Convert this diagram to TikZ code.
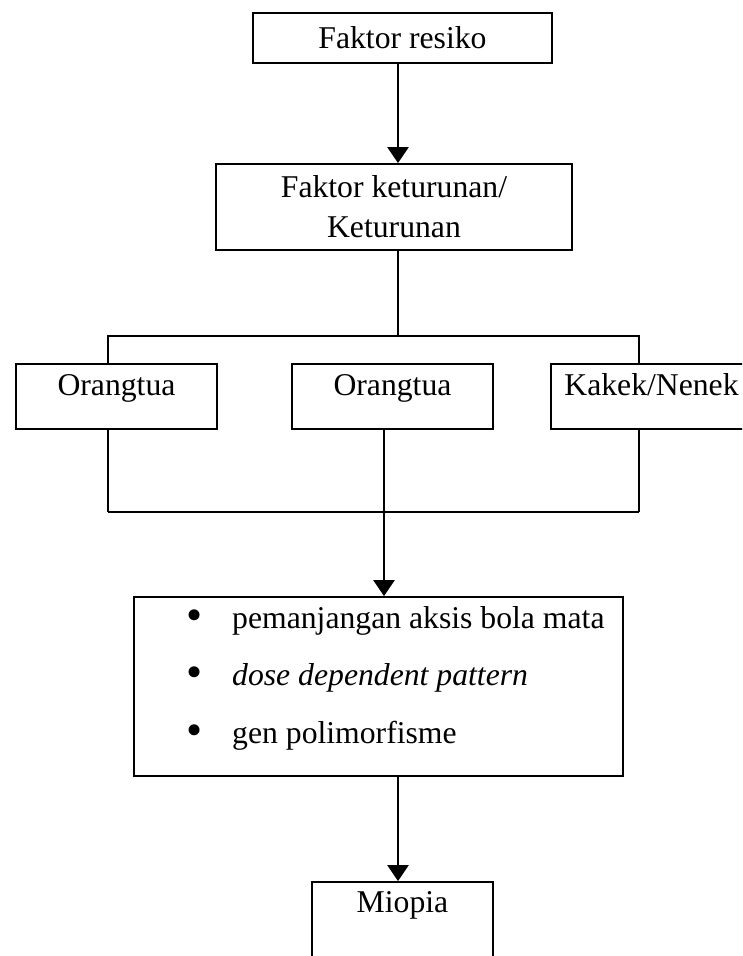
\documentclass[tikz,border=0pt]{standalone}
\usepackage{fontspec}
\usepackage{graphicx}
\setmainfont{Liberation Serif}
\usetikzlibrary{arrows.meta}

\tikzset{
  box/.style={draw,line width=1.8pt,inner sep=0pt,minimum height=65pt},
  link/.style={line width=1.8pt},
  flow/.style={line width=2.6pt,-{Triangle[length=16pt,width=21pt]}}
}

\begin{document}
\begin{tikzpicture}[x=1pt,y=-1pt,font=\fontsize{31.7pt}{40pt}\selectfont]
\useasboundingbox (0,0) rectangle (742,956);
\clip (0,0) rectangle (742,956);
\node[box,minimum width=299pt,minimum height=50pt] (risk) at (402.5,38) {Faktor resiko};
\node[box,minimum width=356pt,minimum height=86pt,align=center] (heredity) at (394,207)
 {Faktor keturunan/\\Keturunan};
\node[box,minimum width=201pt,text height=22pt,text depth=25pt] (parA) at (116.5,396.5) {Orangtua};
\node[box,minimum width=201pt,text height=22pt,text depth=25pt] (parB) at (392.5,396.5) {Orangtua};
\node[box,minimum width=201pt,text height=22pt,text depth=25pt] (parC) at (651.5,396.5) {Kakek/Nenek};
\node[box,minimum width=489pt,minimum height=179pt] (traits) at (378.5,686.5) {};
\foreach \y/\txt [count=\i] in {628/pemanjangan aksis bola mata,
                                685/\textit{dose dependent pattern},
                                743/gen polimorfisme}
  \node[anchor=base west,inner sep=0pt] (item\i) at (186,\y)
   {\makebox[46pt][l]{\raisebox{-2pt}{\scalebox{1.45}{\textbullet}}}\txt};
\node[box,minimum width=181pt,minimum height=90pt,text height=22pt,text depth=52pt] (miopia) at (402.5,927) {Miopia};

\coordinate (spine) at (398,0);
\coordinate (legA) at (108,336);
\coordinate (legC) at (639,336);
\coordinate (fork) at (384,512);

\draw[flow] (risk.south -| spine) -- (heredity.north -| spine);
\draw[link] (heredity.south -| spine) -- (spine |- legA);
\draw[link] (parA.north -| legA) -- (legA) -- (legC) -- (parC.north -| legC);
\draw[link] (parA.south -| legA) -- (legA |- fork);
\draw[link] (parC.south -| legC) -- (legC |- fork);
\draw[line width=2.6pt] (legA |- fork) -- (legC |- fork);
\draw[flow] (parB.south -| fork) -- (traits.north -| fork);
\draw[flow] (traits.south -| spine) -- (miopia.north -| spine);
\end{tikzpicture}
\end{document}
